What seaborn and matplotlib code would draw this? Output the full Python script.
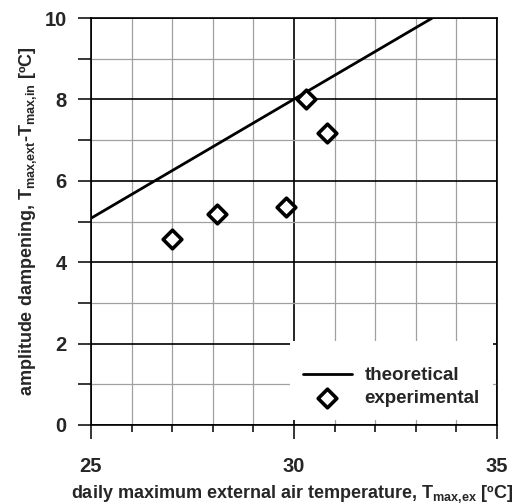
import numpy as np
import pandas as pd
import matplotlib
matplotlib.use("Agg")
import matplotlib.pyplot as plt
from matplotlib.ticker import MultipleLocator
import seaborn as sns

# data
theo_x = [25.0, 33.4]
theo_y = [5.08, 10.0]
exp_x = [27.0, 28.1, 29.8, 30.3, 30.8]
exp_y = [4.56, 5.18, 5.36, 8.0, 7.18]

sns.set_style("white")
plt.rcParams['font.family'] = ['Liberation Sans', 'DejaVu Sans']
plt.rcParams['font.weight'] = 'bold'
plt.rcParams['axes.labelweight'] = 'bold'
plt.rcParams['mathtext.fontset'] = 'custom'
plt.rcParams['mathtext.rm'] = 'Liberation Sans:bold'
plt.rcParams['mathtext.bf'] = 'Liberation Sans:bold'

df_theo = pd.DataFrame({"x": theo_x, "y": theo_y})
df_exp = pd.DataFrame({"x": exp_x, "y": exp_y})

fig = plt.figure(figsize=(5.26, 5.04), dpi=100)
ax = fig.add_axes([0.173, 0.157, 0.772, 0.807])

sns.lineplot(data=df_theo, x="x", y="y", ax=ax, color="black", lw=2.0,
             label="theoretical")
sns.scatterplot(data=df_exp, x="x", y="y", ax=ax, marker="D", s=90,
                facecolor="white", edgecolor="black", linewidth=2.6,
                label="experimental", zorder=3)

ax.set_xlim(25, 35)
ax.set_ylim(0, 10)
ax.xaxis.set_major_locator(MultipleLocator(5))
ax.xaxis.set_minor_locator(MultipleLocator(1))
ax.yaxis.set_major_locator(MultipleLocator(2))
ax.yaxis.set_minor_locator(MultipleLocator(1))

ax.set_axisbelow(True)
ax.grid(which='major', color='black', lw=1.2)
ax.grid(which='minor', color='#a0a0a0', lw=0.9)

for s in ax.spines.values():
    s.set_color('black')
    s.set_linewidth(1.2)
    s.set_visible(True)

ax.tick_params(axis='x', which='major', direction='out', length=10, width=1.1,
               color='black', labelsize=14.5, pad=13, bottom=True, top=False)
ax.tick_params(axis='x', which='minor', direction='out', length=5, width=1.1,
               color='black', bottom=True, top=False)
ax.tick_params(axis='y', which='both', direction='out', length=9.4, width=1.1,
               color='black', labelsize=14.5, pad=8, left=True, right=False)

ax.set_xlabel(r"daily maximum external air temperature, T$_{\mathrm{max{,}ex}}$ [ºC]",
              fontsize=13)
ax.set_ylabel(r"amplitude dampening, T$_{\mathrm{max{,}ext}}$-T$_{\mathrm{max{,}in}}$ [ºC]",
              fontsize=13)
ax.xaxis.set_label_coords(0.495, -0.143)
ax.yaxis.set_label_coords(-0.127, 0.5)

leg = ax.legend(loc='lower right', bbox_to_anchor=(0.99, 0.012), borderaxespad=0,
                fontsize=13.5, handlelength=2.6, handletextpad=0.7, borderpad=0.7,
                labelspacing=0.3, frameon=True, fancybox=False,
                title=' ', title_fontsize=6)
leg.get_frame().set_facecolor('white')
leg.get_frame().set_edgecolor('none')
leg.get_frame().set_alpha(1)

fig.savefig("out.png", dpi=100)
